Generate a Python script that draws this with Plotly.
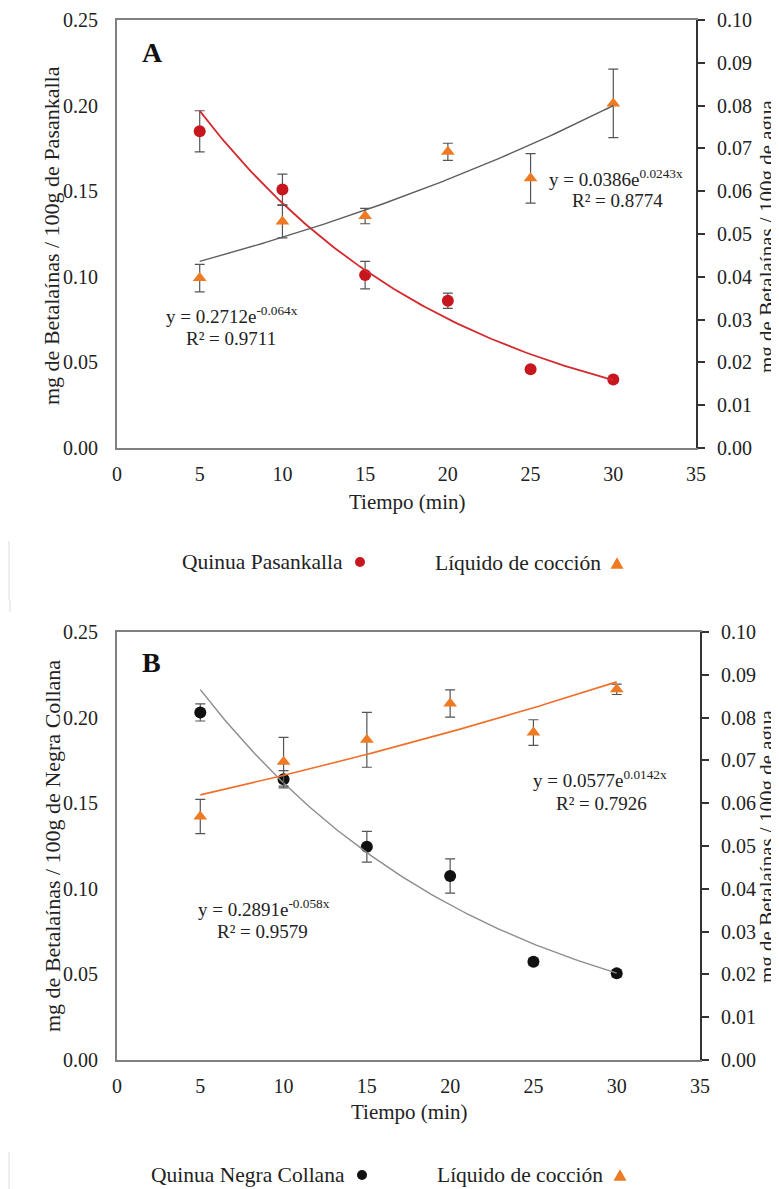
import numpy as np
import plotly.graph_objects as go

# page body has an 8px margin: figure origin sits at (8, 8) in the window
OFF = 8
W, H = 779 - OFF, 1189 - OFF
def fx(p): return (p - OFF) / W
def fy(p): return 1 - (p - OFF) / H

tiempo = [5, 10, 15, 20, 25, 30]

# Panel A
pas_vals = [0.185, 0.151, 0.101, 0.086, 0.046, 0.040]
pas_err = [0.012, 0.009, 0.008, 0.0045, 0.001, 0.001]
liqA_vals = [0.0397, 0.0529, 0.0542, 0.0692, 0.0630, 0.0805]
liqA_err = [0.0032, 0.0038, 0.0018, 0.0020, 0.0058, 0.0080]
# Panel B
neg_vals = [0.203, 0.164, 0.1246, 0.1075, 0.0574, 0.0506]
neg_err = [0.005, 0.005, 0.009, 0.010, 0.002, 0.002]
liqB_vals = [0.0569, 0.0697, 0.0748, 0.0833, 0.0765, 0.0866]
liqB_err = [0.004, 0.0057, 0.0064, 0.0032, 0.003, 0.0012]

# Exponential trendlines y = a*e^(b*x) as printed on the chart
fitA_pas = (0.2712, -0.064)
fitA_liq = (0.0386, 0.0243)
fitB_neg = (0.2891, -0.058)
fitB_liq = (0.0577, 0.0142)

xticks = [0, 5, 10, 15, 20, 25, 30, 35]

FONT = "Liberation Serif"
TXT = "#222222"
RED = "#C8161E"
ORANGE = "#EE7A24"
BLACK = "#111111"
ERR = "#555555"

xfit = np.linspace(5, 30, 120)
def trend(fit):
    a, b = fit
    return a * np.exp(b * xfit)

fig = go.Figure()

def points(x, y, err, color, symbol, xa, ya):
    fig.add_trace(go.Scatter(
        x=x, y=y, mode="markers", xaxis=xa, yaxis=ya,
        marker=dict(color=color, size=12, symbol=symbol, line=dict(width=0)),
        error_y=dict(type="data", array=err, visible=True, color=ERR, thickness=1.2, width=5),
        showlegend=False, hoverinfo="skip"))

def line(fit, color, width, xa, ya):
    fig.add_trace(go.Scatter(
        x=xfit, y=trend(fit), mode="lines", xaxis=xa, yaxis=ya,
        line=dict(color=color, width=width), showlegend=False, hoverinfo="skip"))

# Panel A
points(tiempo, pas_vals, pas_err, RED, "circle", "x", "y")
points(tiempo, liqA_vals, liqA_err, ORANGE, "triangle-up", "x", "y2")
line(fitA_pas, "#D42A2E", 1.8, "x", "y")
line(fitA_liq, "#5E5E5E", 1.4, "x", "y2")
# Panel B
points(tiempo, neg_vals, neg_err, BLACK, "circle", "x2", "y3")
points(tiempo, liqB_vals, liqB_err, ORANGE, "triangle-up", "x2", "y4")
line(fitB_neg, "#8C8C8C", 1.4, "x2", "y3")
line(fitB_liq, "#F0702A", 1.6, "x2", "y4")

tickfont = dict(family=FONT, size=20, color=TXT)

def xax(domain, anchor):
    return dict(domain=domain, anchor=anchor, range=[0, 35], tickvals=xticks,
                showgrid=False, zeroline=False, showline=True, linecolor="#808080",
                linewidth=2, mirror=True, ticks="", ticklabelstandoff=7, tickfont=tickfont,
                automargin=False)

def yleft(domain, anchor):
    return dict(domain=domain, anchor=anchor, range=[0, 0.25], dtick=0.05, tickformat=".2f",
                showgrid=False, zeroline=False, showline=True, linecolor="#808080",
                linewidth=2, ticks="", ticklabelstandoff=13, tickfont=tickfont,
                automargin=False)

def yright(overlay, anchor):
    return dict(overlaying=overlay, anchor=anchor, side="right", range=[0, 0.10], dtick=0.01,
                tickformat=".2f", showgrid=False, zeroline=False, showline=True,
                linecolor="#333333", linewidth=2, ticks="outside", ticklen=7,
                tickcolor="#333333", tickwidth=1.5, ticklabelstandoff=8, tickfont=tickfont,
                automargin=False)

fig.update_layout(
    width=W, height=H, margin=dict(l=0, r=0, t=0, b=0, autoexpand=False),
    paper_bgcolor="white", plot_bgcolor="white",
    xaxis=xax([fx(117), fx(696)], "y"),
    yaxis=yleft([fy(448), fy(20)], "x"),
    yaxis2=yright("y", "x"),
    xaxis2=xax([fx(117), fx(700)], "y3"),
    yaxis3=yleft([fy(1060), fy(632)], "x2"),
    yaxis4=yright("y3", "x2"),
)

ann = []
def text(t, x, y, size=21, xanchor="center", angle=0, bold=False):
    ann.append(dict(text=f"<b>{t}</b>" if bold else t, x=fx(x), y=fy(y), xref="paper", yref="paper",
                    xanchor=xanchor, yanchor="middle", showarrow=False, textangle=angle,
                    font=dict(family=FONT, size=size, color=TXT if not bold else "#111")))

EQ = 19
YT = 22
LG = 21.5
# Panel A texts
text("A", 140, 52, size=28, xanchor="left", bold=True)
text("y = 0.2712e<sup>-0.064x</sup>", 232, 315, size=EQ)
text("R² = 0.9711", 231, 339, size=EQ)
text("y = 0.0386e<sup>0.0243x</sup>", 616, 178, size=EQ)
text("R² = 0.8774", 617, 200, size=EQ)
text("Tiempo (min)", 407, 502)
text("mg de Betalaínas / 100g de Pasankalla", 52, 236, size=YT, angle=-90)
text("mg de Betalaínas / 100g de agua", 767, 236, size=YT - 1, angle=-90)
text("Quinua Pasankalla", 345, 562, size=LG, xanchor="right")
text("Líquido de cocción", 603, 563, size=LG, xanchor="right")

# Panel B texts
text("B", 140, 662, size=28, xanchor="left", bold=True)
text("y = 0.2891e<sup>-0.058x</sup>", 264, 908, size=EQ)
text("R² = 0.9579", 262, 931, size=EQ)
text("y = 0.0577e<sup>0.0142x</sup>", 600, 779, size=EQ)
text("R² = 0.7926", 601, 803, size=EQ)
text("Tiempo (min)", 409, 1112)
text("mg de Betalaínas / 100g de Negra Collana", 52, 846, size=YT, angle=-90)
text("mg de Betalaínas / 100g de agua", 767, 846, size=YT - 1, angle=-90)
text("Quinua Negra Collana", 347, 1175, size=LG, xanchor="right")
text("Líquido de cocción", 605, 1175, size=LG, xanchor="right")

fig.update_layout(annotations=ann)

shapes = []
def circle(cx, cy, r, color):
    shapes.append(dict(type="circle", xref="paper", yref="paper",
                       x0=fx(cx - r), x1=fx(cx + r), y0=fy(cy + r), y1=fy(cy - r),
                       fillcolor=color, line=dict(width=0)))
def tri(cx, cy, s, color):
    h = s * 0.9
    path = (f"M {fx(cx - s/2)} {fy(cy + h/2)} L {fx(cx + s/2)} {fy(cy + h/2)} "
            f"L {fx(cx)} {fy(cy - h/2)} Z")
    shapes.append(dict(type="path", xref="paper", yref="paper", path=path,
                       fillcolor=color, line=dict(width=0)))
def vline(x, y0, y1):
    shapes.append(dict(type="line", xref="paper", yref="paper", x0=fx(x), x1=fx(x),
                       y0=fy(y0), y1=fy(y1), line=dict(color="#DDDDDD", width=1)))

circle(360, 562, 5, RED)
tri(617, 563, 13, ORANGE)
circle(362, 1175, 5, BLACK)
tri(620, 1175, 13, ORANGE)
vline(9, 541, 600)
vline(10, 600, 612)
vline(9, 1152, 1189)

fig.update_layout(shapes=shapes)

fig.write_html("out.html")
